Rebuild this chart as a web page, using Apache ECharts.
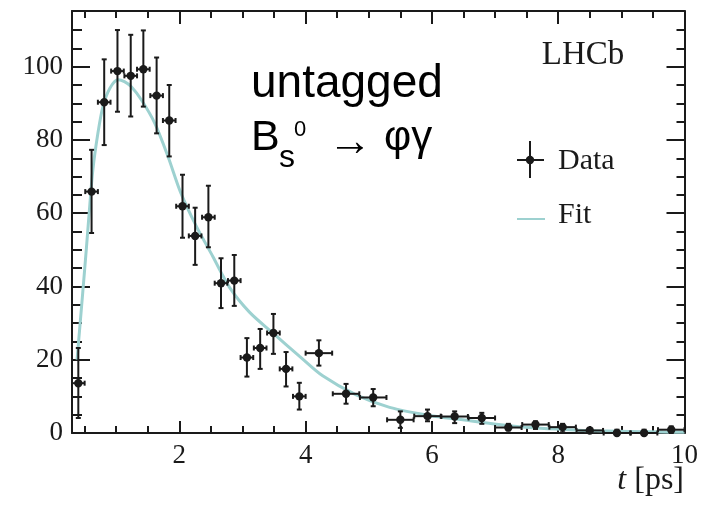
<!DOCTYPE html>
<html><head><meta charset="utf-8">
<script src="https://cdn.jsdelivr.net/npm/echarts@6/dist/echarts.min.js"></script>
<style>html,body{margin:0;padding:0;background:#fff}#c{width:701px;height:510px}</style>
</head><body><div id="c"></div>
<script>
// ---- data ----
const tCenters   = [0.40,0.61,0.81,1.02,1.23,1.43,1.64,1.84,2.05,2.25,2.46,2.66,2.87,3.07,3.28,3.49,3.69,3.90,
                    4.21,4.64,5.07,5.50,5.93,6.36,6.79,7.21,7.64,8.07,8.50,8.93,9.36,9.79];
const halfWidths = [0.10,0.10,0.10,0.10,0.10,0.10,0.10,0.10,0.10,0.10,0.10,0.10,0.10,0.10,0.10,0.10,0.10,0.10,
                    0.21,0.21,0.21,0.21,0.21,0.21,0.21,0.21,0.21,0.21,0.21,0.21,0.21,0.21];
const counts     = [13.6,65.9,90.3,98.8,97.5,99.3,92.1,85.3,61.9,53.8,58.9,40.9,41.6,20.6,23.2,27.3,17.5,10.0,
                    21.8,10.7,9.7,3.6,4.6,4.5,4.1,1.5,2.3,1.6,0.7,0.0,0.0,0.9];
const errLow     = [4.1,54.6,78.6,87.7,86.4,89.1,81.8,75.5,53.3,45.9,50.7,34.1,34.7,15.4,17.5,21.6,12.7,6.4,
                    18.4,8.0,7.3,1.4,3.2,2.7,2.5,0.7,1.1,0.2,0.0,0.0,0.0,0.0];
const errHigh    = [23.2,77.3,102.0,110.0,108.7,109.9,102.5,95.0,70.5,61.5,67.5,47.7,48.6,25.9,28.4,32.5,22.1,13.7,
                    25.3,13.4,12.0,5.9,6.4,5.9,5.5,2.5,3.2,2.5,1.4,0.9,0.9,1.8];
const fitT = [0.38,0.47,0.53,0.58,0.63,0.71,0.79,0.90,1.03,1.13,1.24,1.40,1.61,1.82,2.02,2.27,2.53,2.80,3.11,3.48,3.90,4.27,4.80,5.33,5.96,6.49,7.02,7.54,8.06,8.60,9.65,10.0];
const fitY = [20.0,38.3,50.9,61.8,71.8,81.8,89.1,94.1,96.4,95.9,94.5,90.9,84.6,75.5,65.7,56.4,48.2,39.6,33.0,27.3,21.0,15.6,10.4,7.0,4.8,3.6,2.4,1.5,1.0,0.6,0.25,0.2];
const xMajorTicks = [2,4,6,8,10];
const xMinorTicks = [0.5,1,1.5,2.5,3,3.5,4.5,5,5.5,6.5,7,7.5,8.5,9,9.5];
const yMajorTicks = [0,20,40,60,80,100];
const yMinorTicks = [5,10,15,25,30,35,45,50,55,65,70,75,85,90,95,105,110];
const legendNames = ['Data','Fit'];

const SERIF = "'Liberation Serif', 'Times New Roman', serif";
const SANS = "'Liberation Sans', Arial, sans-serif";
const INK = '#1a1a1a';
const FIT_COLOR = '#9dd1d0';
const X_MIN = 0.3, X_MAX = 10, Y_MIN = 0, Y_MAX = 115.2;

function xAx(pos, ticks, len, showLine, labels) {
  return {
    type: 'value', position: pos, min: X_MIN, max: X_MAX, gridIndex: 0,
    axisLine: {show: showLine, onZero: false, lineStyle: {color: INK, width: 2}},
    axisTick: {show: true, inside: true, length: len, customValues: ticks, lineStyle: {color: INK, width: 2}},
    axisLabel: labels ? {show: true, customValues: labels, fontFamily: SERIF, fontSize: 27, color: INK, margin: 9} : {show: false},
    splitLine: {show: false}
  };
}
function yAx(pos, ticks, len, showLine, labels) {
  return {
    type: 'value', position: pos, min: Y_MIN, max: Y_MAX, gridIndex: 0,
    axisLine: {show: showLine, onZero: false, lineStyle: {color: INK, width: 2}},
    axisTick: {show: true, inside: true, length: len, customValues: ticks, lineStyle: {color: INK, width: 2}},
    axisLabel: labels ? {show: true, customValues: labels, fontFamily: SERIF, fontSize: 27, color: INK, margin: 9} : {show: false},
    splitLine: {show: false}
  };
}

const chart = echarts.init(document.getElementById('c'), null, {renderer: 'canvas'});
const errData = tCenters.map((t, i) => [t, counts[i], errLow[i], errHigh[i], halfWidths[i]]);

chart.setOption({
  animation: false,
  backgroundColor: '#ffffff',
  grid: {left: 72, right: 16, top: 11, bottom: 77, containLabel: false},
  xAxis: [
    xAx('bottom', xMajorTicks, 12, true, xMajorTicks),
    xAx('bottom', xMinorTicks, 7, false, null),
    xAx('top', xMajorTicks, 13, true, null),
    xAx('top', xMinorTicks, 7, false, null)
  ],
  yAxis: [
    yAx('left', yMajorTicks, 18, true, yMajorTicks),
    yAx('left', yMinorTicks, 10, false, null),
    yAx('right', yMajorTicks, 18, true, null),
    yAx('right', yMinorTicks, 8, false, null)
  ],
  series: [
    {
      name: legendNames[1], type: 'line', xAxisIndex: 0, yAxisIndex: 0,
      data: fitT.map((t, i) => [t, fitY[i]]),
      showSymbol: false, smooth: 0.3, z: 2,
      lineStyle: {color: FIT_COLOR, width: 3}
    },
    {
      name: legendNames[0], type: 'custom', xAxisIndex: 0, yAxisIndex: 0, z: 5, clip: false,
      data: errData,
      encode: {x: [0], y: [1, 2, 3]},
      renderItem: function (params, api) {
        const t = api.value(0), v = api.value(1), lo = api.value(2), hi = api.value(3), hw = api.value(4);
        const c = api.coord([t, v]);
        const top = api.coord([t, hi]), bot = api.coord([t, lo]);
        const L = api.coord([t - hw, v]), R = api.coord([t + hw, v]);
        const st = {stroke: INK, lineWidth: 2};
        const cap = 2.5;
        return {
          type: 'group',
          children: [
            {type: 'line', shape: {x1: c[0], y1: top[1], x2: c[0], y2: bot[1]}, style: st},
            {type: 'line', shape: {x1: L[0], y1: c[1], x2: R[0], y2: c[1]}, style: st},
            {type: 'line', shape: {x1: c[0] - cap, y1: top[1], x2: c[0] + cap, y2: top[1]}, style: st},
            {type: 'line', shape: {x1: c[0] - cap, y1: bot[1], x2: c[0] + cap, y2: bot[1]}, style: st},
            {type: 'line', shape: {x1: L[0], y1: c[1] - cap, x2: L[0], y2: c[1] + cap}, style: st},
            {type: 'line', shape: {x1: R[0], y1: c[1] - cap, x2: R[0], y2: c[1] + cap}, style: st},
            {type: 'circle', shape: {cx: c[0], cy: c[1], r: 4.2}, style: {fill: INK}}
          ]
        };
      }
    }
  ],
  graphic: [
    // LHCb label
    {type: 'text', x: 583, y: 55, style: {text: 'LHCb', font: '33px ' + SERIF, fill: INK, align: 'center', verticalAlign: 'middle'}},
    // Legend: Data
    {type: 'line', shape: {x1: 530, y1: 141, x2: 530, y2: 178}, style: {stroke: INK, lineWidth: 2}},
    {type: 'line', shape: {x1: 517, y1: 160, x2: 544, y2: 160}, style: {stroke: INK, lineWidth: 2}},
    {type: 'circle', shape: {cx: 530, cy: 160, r: 4.2}, style: {fill: INK}},
    {type: 'text', x: 558, y: 161, style: {text: legendNames[0], font: '30px ' + SERIF, fill: INK, align: 'left', verticalAlign: 'middle'}},
    // Legend: Fit
    {type: 'line', shape: {x1: 517, y1: 219, x2: 545, y2: 219}, style: {stroke: FIT_COLOR, lineWidth: 2}},
    {type: 'text', x: 558, y: 215, style: {text: legendNames[1], font: '30px ' + SERIF, fill: INK, align: 'left', verticalAlign: 'middle'}},
    // Annotation
    {type: 'text', x: 251, y: 84, style: {text: 'untagged', font: '46px ' + SANS, fill: '#000', align: 'left', verticalAlign: 'middle'}},
    {type: 'text', x: 251, y: 138, style: {text: 'B', font: '43px ' + SANS, fill: '#000', align: 'left', verticalAlign: 'middle'}},
    {type: 'text', x: 279, y: 158, style: {text: 's', font: '32px ' + SANS, fill: '#000', align: 'left', verticalAlign: 'middle'}},
    {type: 'text', x: 294, y: 130, style: {text: '0', font: '22px ' + SANS, fill: '#000', align: 'left', verticalAlign: 'middle'}},
    {type: 'text', x: 328, y: 143, style: {text: '\u2192', font: '44px ' + SANS, fill: '#000', align: 'left', verticalAlign: 'middle'}},
    {type: 'text', x: 384, y: 138, style: {text: '\u03C6\u03B3', font: '42px ' + SANS, fill: '#000', align: 'left', verticalAlign: 'middle'}},
    // x axis title
    {type: 'text', x: 684, y: 481, style: {
      text: '{i|t} [ps]', font: '32px ' + SERIF, fill: INK, align: 'right', verticalAlign: 'middle',
      rich: {i: {fontStyle: 'italic', fontFamily: SERIF, fontSize: 32, fill: INK, color: INK}}
    }}
  ]
});
</script>
</body></html>
